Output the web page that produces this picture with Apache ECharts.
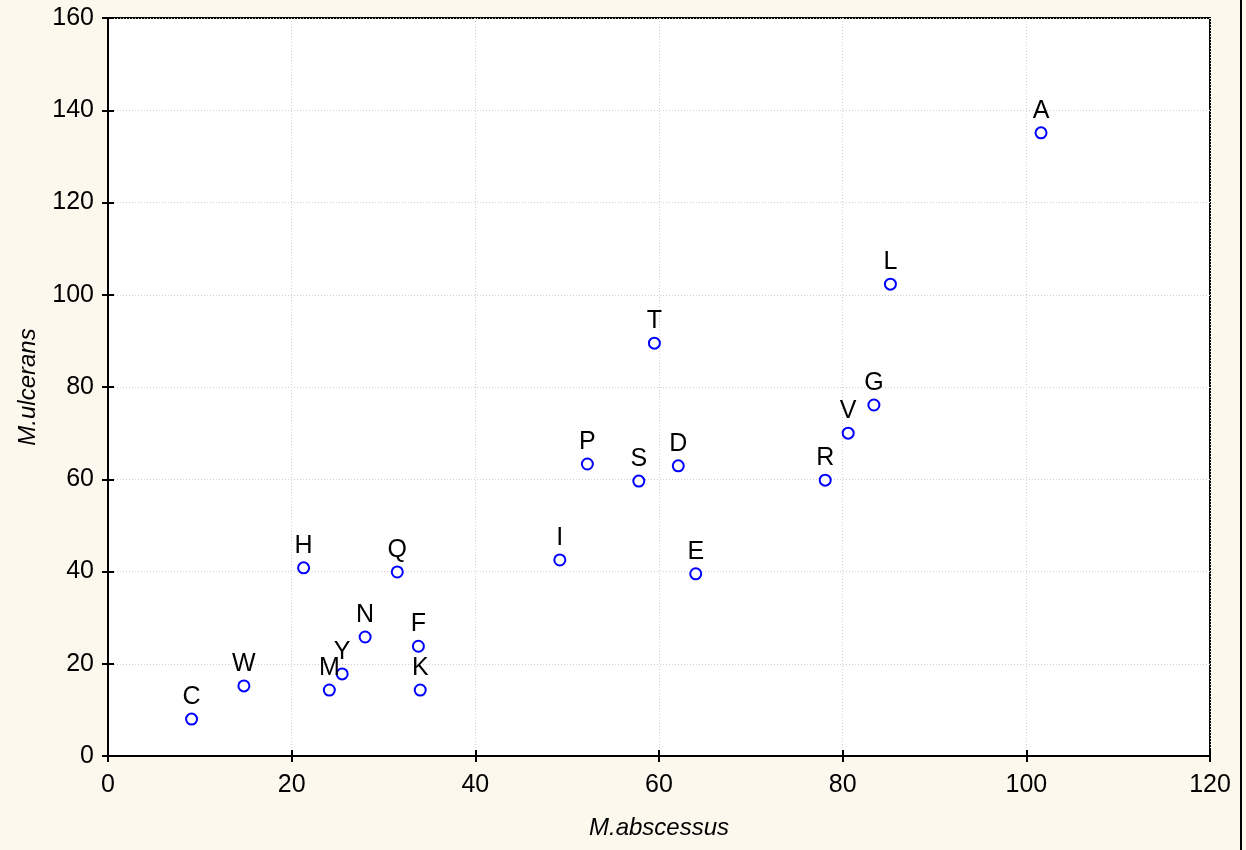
<!DOCTYPE html>
<html>
<head>
<meta charset="utf-8">
<style>
  html, body { margin: 0; padding: 0; background: #fdf8ee; }
  #chart { width: 1246px; height: 850px; }
</style>
</head>
<body>
<div id="chart"></div>
<script src="https://cdn.jsdelivr.net/npm/echarts@6/dist/echarts.min.js"></script>
<script>
// strain labels and their counts
var strainNames = ['A', 'L', 'T', 'G', 'V', 'P', 'D', 'S', 'R', 'I', 'H', 'Q', 'E', 'N', 'F', 'Y', 'M', 'K', 'W', 'C'];
var abscessus = [101.6, 85.2, 59.5, 83.4, 80.6, 52.2, 62.1, 57.8, 78.1, 49.2, 21.3, 31.5, 64.0, 28.0, 33.8, 25.5, 24.1, 34.0, 14.8, 9.1];
var ulcerans = [135.1, 102.3, 89.5, 76.1, 70.0, 63.3, 62.9, 59.6, 59.8, 42.5, 40.8, 39.9, 39.5, 25.8, 23.8, 17.8, 14.3, 14.3, 15.2, 8.0];

var xTicks = { min: 0, max: 120, interval: 20 };
var yTicks = { min: 0, max: 160, interval: 20 };

var points = strainNames.map(function (n, i) {
    return { name: n, value: [abscessus[i], ulcerans[i]] };
});

var font = '"Liberation Sans", Arial, sans-serif';
var tickStyle = { show: true, inside: true, length: 6, lineStyle: { color: '#000', width: 2 } };
var gridLine = { show: true, lineStyle: { color: '#cfcfcf', type: [1, 2], width: 1 } };

var chart = echarts.init(document.getElementById('chart'));
chart.setOption({
    backgroundColor: '#fdf8ee',
    animation: false,
    grid: {
        left: 108, right: 36, top: 18, bottom: 94,
        show: true, backgroundColor: '#fff', borderColor: '#000', borderWidth: 2
    },
    graphic: [{
        type: 'line',
        shape: { x1: 1241, y1: 0, x2: 1241, y2: 850 },
        style: { stroke: '#000', lineWidth: 2 }
    }],
    xAxis: [{
        type: 'value', min: xTicks.min, max: xTicks.max, interval: xTicks.interval,
        name: 'M.abscessus', nameLocation: 'middle', nameGap: 60,
        nameTextStyle: { fontFamily: font, fontSize: 24, fontStyle: 'italic', color: '#000' },
        axisLine: { show: true, lineStyle: { color: '#000', width: 2 } },
        axisTick: tickStyle,
        axisLabel: { fontFamily: font, fontSize: 25, color: '#000', margin: 17 },
        splitLine: gridLine
    }, {
        type: 'value', position: 'top', min: xTicks.min, max: xTicks.max, interval: xTicks.interval,
        axisLine: { show: true, lineStyle: { color: '#000', width: 2 } },
        axisTick: tickStyle, axisLabel: { show: false }, splitLine: { show: false }
    }],
    yAxis: [{
        type: 'value', min: yTicks.min, max: yTicks.max, interval: yTicks.interval,
        name: 'M.ulcerans', nameLocation: 'middle', nameGap: 68,
        nameTextStyle: { fontFamily: font, fontSize: 24, fontStyle: 'italic', color: '#000' },
        axisLine: { show: true, lineStyle: { color: '#000', width: 2 } },
        axisTick: tickStyle,
        axisLabel: { fontFamily: font, fontSize: 25, color: '#000', margin: 14 },
        splitLine: gridLine
    }, {
        type: 'value', position: 'right', min: yTicks.min, max: yTicks.max, interval: yTicks.interval,
        axisLine: { show: true, lineStyle: { color: '#000', width: 2 } },
        axisTick: tickStyle, axisLabel: { show: false }, splitLine: { show: false }
    }],
    series: [{
        type: 'scatter',
        xAxisIndex: 0, yAxisIndex: 0,
        symbol: 'circle', symbolSize: 11,
        itemStyle: { color: '#fff', borderColor: '#0000ff', borderWidth: 2, opacity: 1 },
        label: {
            show: true, position: 'top', distance: 3,
            formatter: '{b}', fontFamily: font, fontSize: 25, color: '#000'
        },
        data: points
    }]
});
</script>
</body>
</html>
